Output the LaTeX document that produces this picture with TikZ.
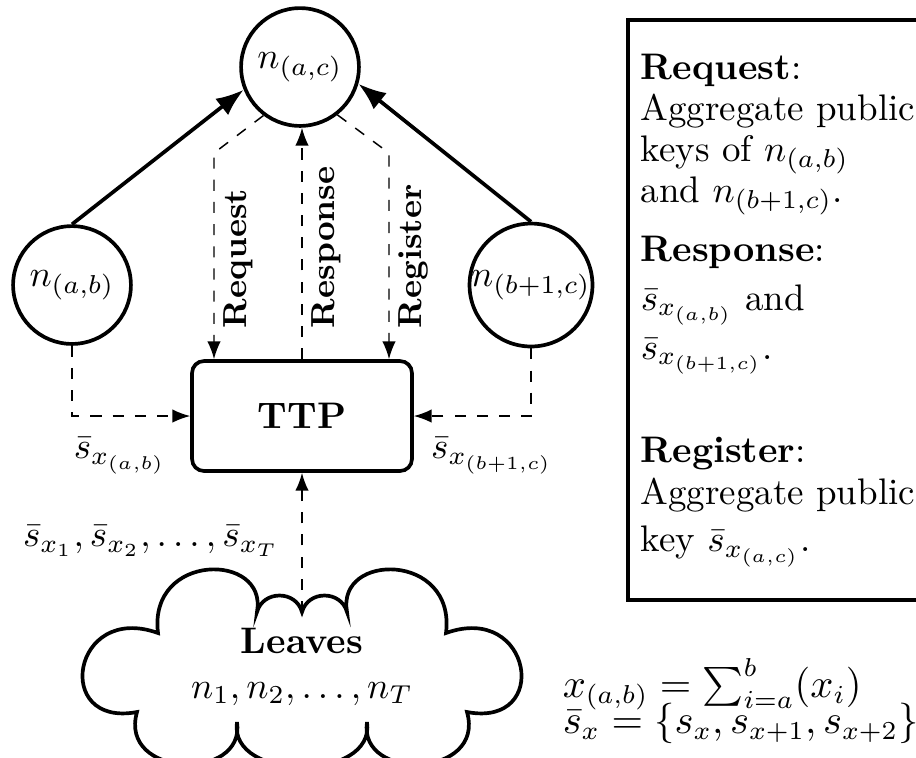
\documentclass[tikz,border=0pt]{standalone}
\usepackage{amsmath}
\usepackage{amsfonts}
\usetikzlibrary{shapes}
\usetikzlibrary{arrows.meta}
\tikzset{
  main node/.style={circle,draw,line width=1pt,inner sep=0pt,minimum size=1.12cm},
  ttp node/.style={rectangle,draw,line width=1pt,rounded corners=3.2pt,minimum width=2.09cm,minimum height=1.045cm,font=\bfseries},
  msg/.style={font=\small\bfseries,rotate=90,anchor=north west,inner sep=2.5pt},
  legend/.style={anchor=north west,align=left,inner sep=0pt},
  flow/.style={->,dashed}
}

\begin{document}
\begin{tikzpicture}[>={Latex},x=0.0095cm,y=-0.0095cm]
  \clip (0,0) rectangle (916,757);
  % tree nodes
  \node [main node] (ac) at (300,67) {$n_{(a,c)}$};
  \node [main node] (ab) at (72,285) {$n_{(a,b)}$};
  \node [main node] (bc) at (531,285) {$n_{(b+1,c)}$};
  \node [ttp node] (ttp) at (302,416) {TTP};

  % cloud of leaves
  \draw [line width=1pt] (302,612)
    .. controls (296,590) and (263,590) .. (257,612)
    .. controls (268,552) and (148,552) .. (158,633)
    .. controls (72,602) and (52,728) .. (137,712)
    .. controls (118,778) and (246,782) .. (237,722)
    .. controls (228,782) and (376,782) .. (367,722)
    .. controls (358,782) and (486,778) .. (467,712)
    .. controls (552,728) and (532,602) .. (446,633)
    .. controls (456,552) and (336,552) .. (347,612)
    .. controls (341,590) and (308,590) .. (302,612) -- cycle;
  \coordinate (leavestop) at (302,612);
  \node [align=center] (leaves) at (302,667) {\textbf{Leaves}\\$n_1, n_2, \ldots, n_T$};

  \draw [->,line width=1pt] (ab.north) -- (ac.202);
  \draw [->,line width=1pt] (bc.north) -- (ac.344);

  % messages between the root and the TTP
  \coordinate (req) at (214,153);
  \coordinate (reg) at (389,153);
  \draw [flow] (ac.233) -- (req) -- (req |- ttp.north);
  \draw [flow] (ttp.north) -- (ttp.north |- ac.south);
  \draw [flow] (ac.308) -- (reg) -- (reg |- ttp.north);
  \node [msg] (reqlbl) at (214,338) {Request};
  \node [msg] (reslbl) at (302,338) {Response};
  \node [msg] (reglbl) at (389,338) {Register};

  \draw [flow] (ab.south) |- (ttp.west);
  \draw [flow] (bc.south) |- (ttp.east);
  \draw [flow] (leavestop) -- (ttp.south);
  \node (sab) at (120,456) {$\bar{s}_{x_{(a,b)}}$};
  \node (sbc) at (492,456) {$\bar{s}_{x_{(b+1,c)}}$};
  \node (sall) at (151,541) {$\bar{s}_{x_1}, \bar{s}_{x_2}, \ldots, \bar{s}_{x_T}$};

  % legend
  \draw [line width=1pt] (628,20) rectangle (935,600);
  \node [legend] (legtext) at (640,53) {\textbf{Request}:\\[-0.9pt]
    Aggregate public\\[-0.9pt]
    keys of $n_{(a,b)}$\\[-0.9pt]
    and $n_{(b+1,c)}$.\\[4pt]
    \textbf{Response}:\\[1.2pt]
    $\bar{s}_{x_{(a,b)}}$ and\\[1.2pt]
    $\bar{s}_{x_{(b+1,c)}}$.\\[16pt]
    \textbf{Register}:\\[-0.6pt]
    Aggregate public\\[0.7pt]
    key $\bar{s}_{x_{(a,c)}}$.};

  \node [anchor=base west,inner sep=0pt,font=\fontsize{10.5}{12}\selectfont] (xdef) at (562,697) {$x_{(a,b)} = \sum_{i=a}^{b}(x_i)$};
  \node [anchor=base west,inner sep=0pt,font=\fontsize{10.5}{12}\selectfont] (sdef) at (562,733) {$\bar{s}_x = \{s_x, s_{x+1}, s_{x+2}\}$};
\end{tikzpicture}
\end{document}
